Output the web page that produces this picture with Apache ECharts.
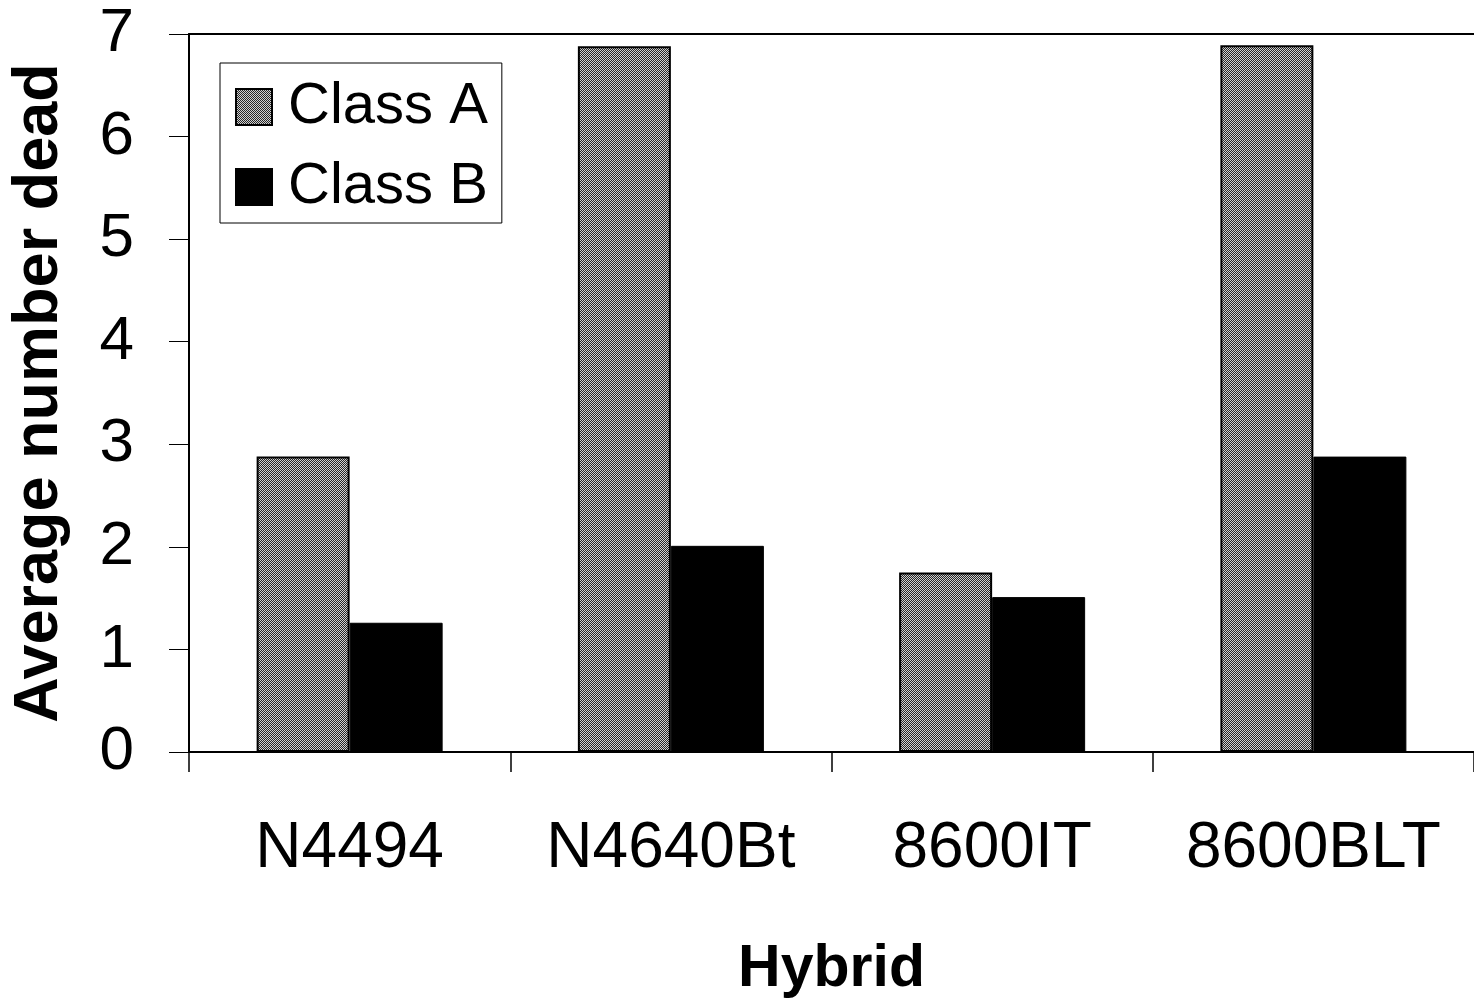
<!DOCTYPE html>
<html>
<head>
<meta charset="utf-8">
<script src="https://cdn.jsdelivr.net/npm/echarts@6/dist/echarts.min.js"></script>
<style>
html,body{margin:0;padding:0;background:#fff;}
#chart{width:1474px;height:1007px;}
</style>
</head>
<body>
<div id="chart"></div>
<script>
var categories = ['N4494', 'N4640Bt', '8600IT', '8600BLT'];
var classA = [2.88, 6.88, 1.75, 6.89];
var classB = [1.26, 2.01, 1.51, 2.88];
var yTicks = [0, 1, 2, 3, 4, 5, 6, 7];

function makePattern() {
  var c = document.createElement('canvas');
  c.width = 4; c.height = 4;
  var ctx = c.getContext('2d');
  ctx.fillStyle = '#262626';
  ctx.fillRect(0, 0, 4, 4);
  ctx.fillStyle = '#d0d0d0';
  ctx.fillRect(0, 0, 1, 1);
  ctx.fillRect(2, 0, 1, 1);
  ctx.fillRect(1, 1, 1, 1);
  ctx.fillRect(3, 1, 1, 1);
  ctx.fillRect(0, 2, 1, 1);
  ctx.fillRect(2, 2, 1, 1);
  ctx.fillRect(1, 3, 1, 1);
  ctx.fillRect(3, 3, 1, 1);
  return c;
}
var pattern = { image: makePattern(), repeat: 'repeat' };

var chart = echarts.init(document.getElementById('chart'), null, { renderer: 'canvas' });
var font = '"Liberation Sans", Arial, sans-serif';
chart.setOption({
  animation: false,
  backgroundColor: '#ffffff',
  textStyle: { fontFamily: font, color: '#000' },
  grid: {
    left: 188, top: 34, width: 1288, bottom: 255, show: false
  },
  legend: {
    orient: 'vertical',
    left: 220, top: 63,
    backgroundColor: '#fff',
    borderColor: '#000', borderWidth: 1,
    padding: [15, 14, 7, 15],
    itemWidth: 36, itemHeight: 36,
    itemGap: 22,
    icon: 'rect',
    textStyle: { fontFamily: font, fontSize: 58, color: '#000', lineHeight: 58, padding: [0, 0, 0, 11] },
    data: ['Class A', 'Class B']
  },
  xAxis: [
    {
      type: 'category',
      data: categories,
      name: 'Hybrid',
      nameLocation: 'middle',
      nameGap: 188,
      nameTextStyle: { fontFamily: font, fontSize: 59, fontWeight: 'bold', color: '#000' },
      axisLine: { lineStyle: { color: '#000', width: 2 } },
      axisTick: { show: true, interval: 0, length: 20, lineStyle: { color: '#000', width: 1.5 } },
      axisLabel: { interval: 0, fontFamily: font, fontSize: 64, color: '#000', margin: 65 }
    },
    {
      type: 'category',
      data: categories,
      position: 'top',
      axisLine: { show: true, lineStyle: { color: '#000', width: 2 } },
      axisTick: { show: false },
      axisLabel: { show: false }
    }
  ],
  yAxis: {
    type: 'value',
    min: 0, max: 7, interval: 1,
    name: 'Average number dead',
    nameLocation: 'middle',
    nameGap: 118,
    nameTextStyle: { fontFamily: font, fontSize: 63, fontWeight: 'bold', color: '#000' },
    axisLine: { show: true, lineStyle: { color: '#000', width: 2 } },
    axisTick: { show: true, length: 20, lineStyle: { color: '#000', width: 1 } },
    splitLine: { show: false },
    axisLabel: {
      fontFamily: font, fontSize: 62, color: '#000', margin: 55,
      formatter: function (v) { return yTicks.indexOf(v) >= 0 ? String(v) : ''; }
    }
  },
  series: [
    {
      name: 'Class A', type: 'bar', data: classA, xAxisIndex: 0,
      barWidth: 93, barGap: '0%',
      itemStyle: { color: pattern, borderColor: '#000', borderWidth: 2 }
    },
    {
      name: 'Class B', type: 'bar', data: classB, xAxisIndex: 0,
      barWidth: 93, barGap: '0%',
      itemStyle: { color: '#000', borderColor: '#000', borderWidth: 1 }
    }
  ]
});
</script>
</body>
</html>
